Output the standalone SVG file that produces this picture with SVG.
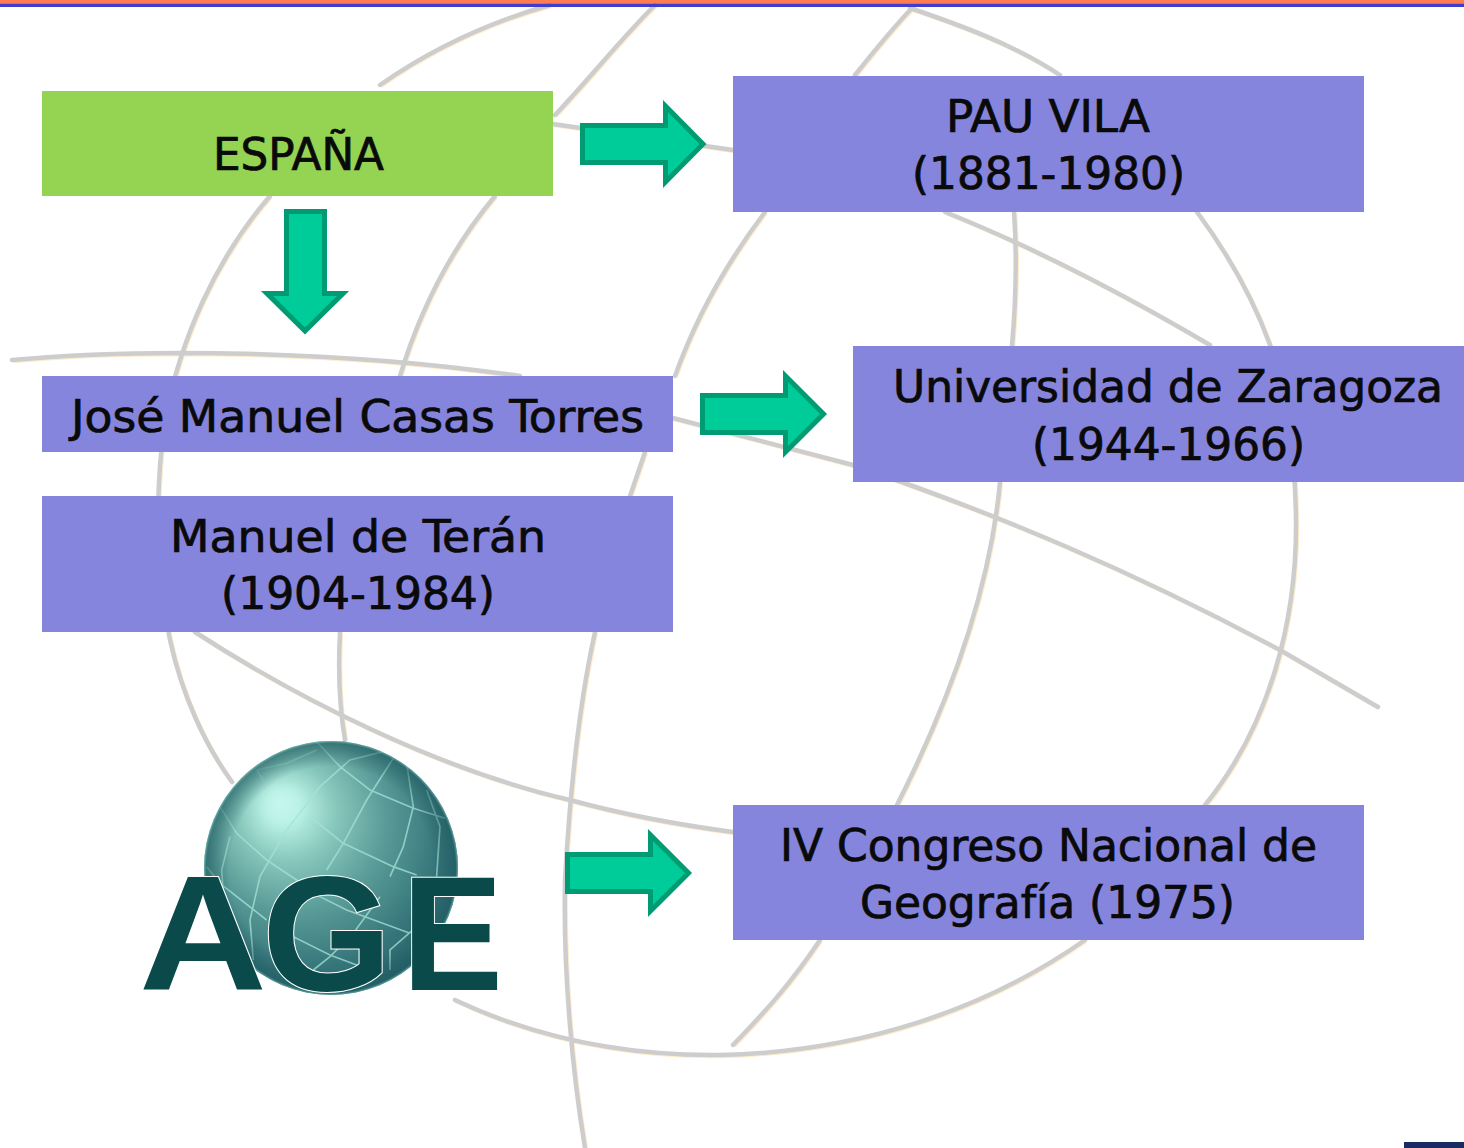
<svg xmlns="http://www.w3.org/2000/svg" xmlns:xlink="http://www.w3.org/1999/xlink" width="1464" height="1148" viewBox="0 0 1464 1148">
<style>
.bg{fill:none;stroke:#cdcdcd;stroke-width:4.5;stroke-linecap:round;stroke-linejoin:round}
.halo{fill:none;stroke:#ffeccb;stroke-width:4.5}
.box{fill:#8585dd}
.arrow{fill:#00cc99;stroke:#009b72;stroke-width:5;stroke-linejoin:miter}
.t{font-family:"DejaVu Sans",sans-serif;font-size:45px;font-stretch:condensed;fill:#0a0a0a;stroke:#0a0a0a;stroke-width:.7;text-anchor:start}
.grid{fill:none;stroke:#a6e2d8;stroke-width:5;stroke-opacity:.75}
.age{font-family:"Liberation Sans",Arial,sans-serif;font-weight:bold;font-size:163px;fill:#0a4a4a;stroke:#ffffff;stroke-width:2;paint-order:stroke}
</style>
<defs>
<radialGradient id="sphere" gradientUnits="userSpaceOnUse" cx="305" cy="835" r="165" fx="280" fy="803">
<stop offset="0" stop-color="#c6f8ee"/><stop offset=".1" stop-color="#bbf2e6"/><stop offset=".3" stop-color="#86c6bb"/><stop offset=".55" stop-color="#5a9c98"/><stop offset=".85" stop-color="#35757a"/><stop offset="1" stop-color="#2c666c"/>
</radialGradient>
<radialGradient id="rim" gradientUnits="userSpaceOnUse" cx="331" cy="868" r="127">
<stop offset=".8" stop-color="#1f5a60" stop-opacity="0"/><stop offset=".98" stop-color="#1f5a60" stop-opacity=".6"/><stop offset="1" stop-color="#6fb8b0" stop-opacity=".8"/>
</radialGradient>
<clipPath id="ball"><circle cx="331" cy="868" r="127"/></clipPath>
<path id="lines" d="M380 85C430 50 490 22 550 5M270 196C215 260 180 340 165 420C155 490 155 570 170 640C182 695 205 745 232 782M455 1000C540 1040 630 1056 720 1055C860 1052 985 1010 1085 940M1205 805C1270 725 1297 620 1296 520C1295 455 1288 395 1270 345C1252 295 1225 250 1197 212M1060 75C1015 45 960 25 910 8M555 115C590 78 620 40 655 5M855 75C875 50 893 28 912 8M553 124L733 150M945 212C1040 250 1125 295 1210 345M495 196C450 250 420 310 400 376M340 632C338 670 339 705 345 740M765 212C725 265 695 320 675 376M645 452L630 496M595 632C580 700 570 790 565 880C563 970 572 1070 585 1148M1014 212C1017 255 1016 300 1012 346M1000 482C990 590 950 700 897 805M820 940C790 985 762 1015 733 1045M12 360C140 348 340 350 520 376M673 418L853 465C1000 515 1130 570 1280 650L1378 707M195 632C300 700 440 770 570 800C625 815 680 825 733 832"/>
</defs>
<g id="background">
<use xlink:href="#lines" class="halo" transform="translate(1 1)"/>
<use xlink:href="#lines" class="bg"/>
</g>
<g id="top-band"><rect width="1464" height="3.5" fill="#ff7c52"/><rect y="3.5" width="1464" height="3.5" fill="#3d3dcf"/></g>
<rect id="corner" x="1404" y="1142" width="60" height="6" fill="#1a2a63"/>
<g id="connectors">
<path class="arrow" d="M582.500 125.500H665.500V106L703 144L665.500 182V162.500H582.500Z"/>
<path class="arrow" d="M702.500 395.500H785.500V376L823.500 414L785.500 452V432.500H702.500Z"/>
<path class="arrow" d="M567.500 854.500H650.500V835L688.500 873L650.500 911V891.500H567.500Z"/>
<path class="arrow" d="M286.500 211.500V293.500H267L305 331L343 293.500H324.500V211.500Z"/>
</g>
<g id="espana"><rect x="42" y="91" width="511" height="105" fill="#95d353"/><text class="t" x="213" y="170" textLength="171" lengthAdjust="spacingAndGlyphs">ESPAÑA</text></g>
<g id="pau-vila"><rect class="box" x="733" y="76" width="631" height="136"/><text class="t" x="946" y="132" textLength="204" lengthAdjust="spacingAndGlyphs">PAU VILA</text><text class="t" x="912" y="189" textLength="273" lengthAdjust="spacingAndGlyphs">(1881-1980)</text></g>
<g id="zaragoza"><rect class="box" x="853" y="346" width="611" height="136"/><text class="t" x="893" y="402" textLength="550" lengthAdjust="spacingAndGlyphs">Universidad de Zaragoza</text><text class="t" x="1032" y="460" textLength="273" lengthAdjust="spacingAndGlyphs">(1944-1966)</text></g>
<g id="casas-torres"><rect class="box" x="42" y="376" width="631" height="76"/><text class="t" x="71" y="432" textLength="573" lengthAdjust="spacingAndGlyphs">José Manuel Casas Torres</text></g>
<g id="teran"><rect class="box" x="42" y="496" width="631" height="136"/><text class="t" x="170" y="552" textLength="376" lengthAdjust="spacingAndGlyphs">Manuel de Terán</text><text class="t" x="221" y="609" textLength="274" lengthAdjust="spacingAndGlyphs">(1904-1984)</text></g>
<g id="congreso"><rect class="box" x="733" y="805" width="631" height="135"/><text class="t" x="780" y="861" textLength="537" lengthAdjust="spacingAndGlyphs">IV Congreso Nacional de</text><text class="t" x="860" y="918" textLength="375" lengthAdjust="spacingAndGlyphs">Geografía (1975)</text></g>
<g id="age-logo">
<circle cx="331" cy="868" r="127" fill="url(#sphere)"/>
<g clip-path="url(#ball)"><g transform="translate(120 720) scale(.3333)">
<path class="grid" d="M590 65L660 140L750 210L880 265L975 295M300 260L350 340L440 420L530 480L600 530L680 570L870 640M410 150L430 180M570 290L670 370L820 440L890 465M820 115L740 240L670 370L620 450M780 530L700 640L630 710L580 750M790 95L690 120L600 200L500 330L420 470L390 600L400 720M860 130L880 260L850 380L810 470M920 210L960 320L950 470M330 350L305 450L310 520M260 440L300 490L440 600M520 650L630 705L750 750M590 90L500 130L410 150M890 620L810 690L810 750"/>
</g></g>
<circle cx="331" cy="868" r="127" fill="url(#rim)"/>
<text class="age" y="990"><tspan x="139" textLength="128" lengthAdjust="spacingAndGlyphs">A</tspan><tspan x="262" textLength="130" lengthAdjust="spacingAndGlyphs">G</tspan><tspan x="402" textLength="101" lengthAdjust="spacingAndGlyphs">E</tspan></text>
</g>
</svg>
